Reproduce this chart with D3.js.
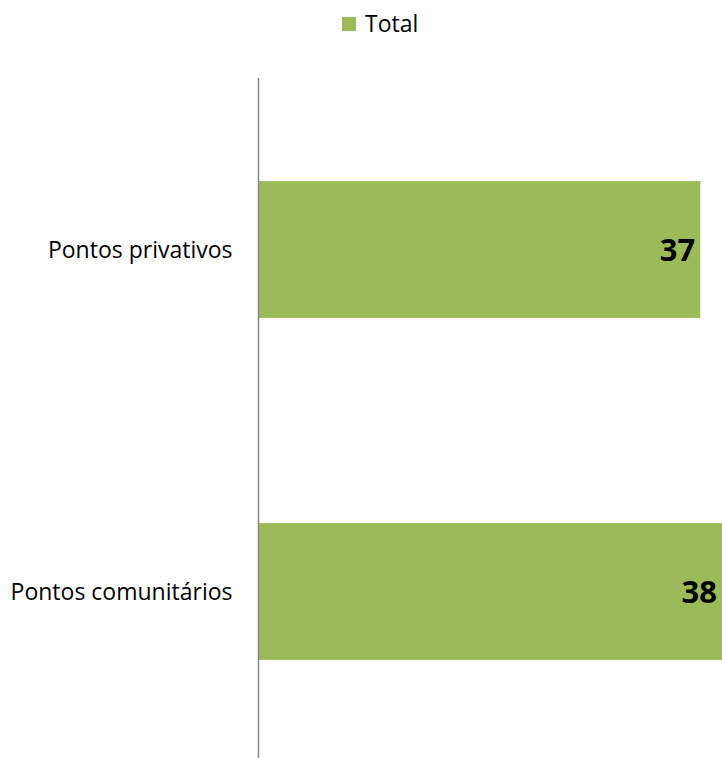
<!DOCTYPE html>
<html>
<head>
<meta charset="utf-8">
<script src="https://cdn.jsdelivr.net/npm/d3@7"></script>
<style>
    body { margin: 0; background: #fff; }
    text { font-family: "Open Sans", sans-serif; fill: #000; }
</style>
</head>
<body>
<div id="chart"></div>
<script>
// data
var categories = ["Pontos privativos", "Pontos comunitários"];
var totals = [36.6, 38.4];
var seriesName = "Total";

var svgWidth = 722;
var svgHeight = 758;

var margin = { top: 78, left: 259 };
var barColor = "#9bbb59";
var fontFamily = "'Open Sans', sans-serif";

var svg = d3.select("#chart")
    .append("svg")
    .attr("width", svgWidth)
    .attr("height", svgHeight);

var data = categories.map(function(c, i) {
    return { cat: c, value: totals[i] };
});

// scales
var xScale = d3.scaleLinear()
    .domain([0, 38.4])
    .range([margin.left, svgWidth]);

var yScale = d3.scaleBand()
    .domain(categories)
    .range([margin.top + 0.5, 762.5])
    .paddingInner(0.6)
    .paddingOuter(0.3);

// bars
svg.append("g")
    .selectAll("rect")
    .data(data)
    .enter()
    .append("rect")
    .attr("x", xScale(0))
    .attr("y", d => yScale(d.cat))
    .attr("width", d => xScale(d.value) - xScale(0))
    .attr("height", yScale.bandwidth())
    .attr("fill", barColor);

// category axis
var leftAxis = d3.axisLeft(yScale).tickSize(0).tickPadding(26);
var yAxis = svg.append("g")
    .attr("transform", `translate(${xScale(0) - 0.5}, 0)`)
    .call(leftAxis)
    .attr("font-family", fontFamily)
    .attr("font-size", 23);

yAxis.select(".domain")
    .attr("d", `M0,${margin.top}V${svgHeight}`)
    .attr("stroke", "#868686")
    .attr("stroke-width", 1.5);

yAxis.selectAll(".tick text")
    .attr("fill", "#000")
    .attr("dy", "0.36em");

// value labels, inside end
var fmt = d3.format(".0f");
svg.append("g")
    .selectAll("text")
    .data(data)
    .enter()
    .append("text")
    .attr("x", d => Math.min(xScale(d.value), svgWidth) - 5)
    .attr("y", d => yScale(d.cat) + yScale.bandwidth() / 2)
    .attr("dy", "0.36em")
    .attr("text-anchor", "end")
    .attr("font-family", fontFamily)
    .attr("font-size", 31)
    .attr("font-weight", "bold")
    .text(d => fmt(d.value));

// legend
var legend = svg.append("g")
    .attr("transform", "translate(342, 17)");

legend.append("rect")
    .attr("width", 14)
    .attr("height", 14)
    .attr("fill", barColor);

legend.append("text")
    .attr("x", 23)
    .attr("y", 7)
    .attr("dy", "0.36em")
    .attr("font-family", fontFamily)
    .attr("font-size", 23)
    .text(seriesName);
</script>
</body>
</html>
